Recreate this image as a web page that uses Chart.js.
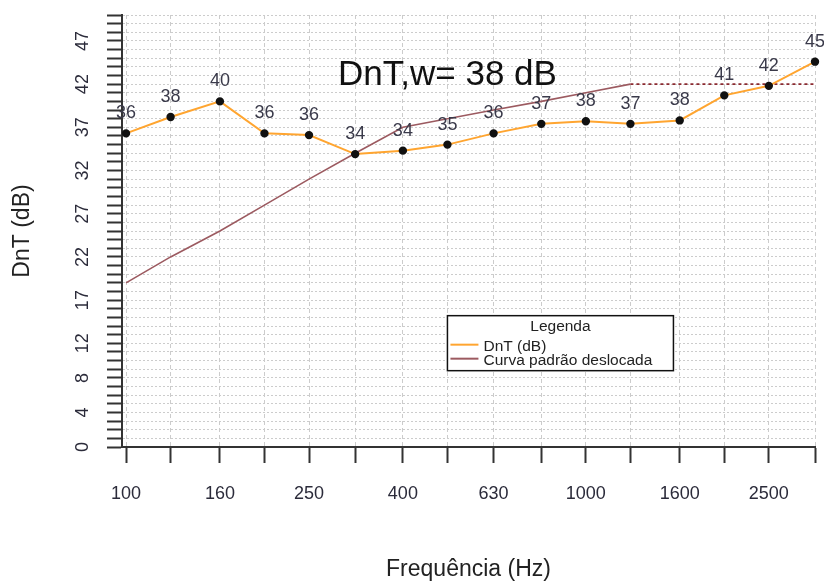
<!DOCTYPE html>
<html>
<head>
<meta charset="utf-8">
<script src="https://cdn.jsdelivr.net/npm/chart.js@4"></script>
<style>
  body { margin: 0; background: #fff; }
  canvas { display: block; }
</style>
</head>
<body>
<canvas id="dntChart" width="824" height="581"></canvas>
<script>
const freqs = [100, 125, 160, 200, 250, 315, 400, 500, 630, 800, 1000, 1250, 1600, 2000, 2500, 3150]
const dntValues = [36.3, 38.2, 40.0, 36.3, 36.1, 33.9, 34.3, 35.0, 36.3, 37.4, 37.7, 37.4, 37.8, 40.7, 41.8, 44.6]
const refCurve = [19, 22, 25, 28, 31, 34, 37, 38, 39, 40, 41, 42, 42, 42, 42, 42]
const xTickLabels = [100, 160, 250, 400, 630, 1000, 1600, 2500]
const yTickLabels = [0, 4, 8, 12, 17, 22, 27, 32, 37, 42, 47]
const ratingText = 'DnT,w= 38 dB'

const FONT = '"Liberation Sans", Arial, sans-serif'
const orange = '#ffa530'
const brown = '#9c5a60'

// labels, title and legend drawn the way R's text()/legend() place them
const rDecor = {
  id: 'rDecor',
  afterDatasetsDraw(chart) {
    const ctx = chart.ctx
    const meta = chart.getDatasetMeta(0)
    ctx.save()
    ctx.font = '18px ' + FONT
    ctx.fillStyle = '#3a3a4a'
    ctx.textAlign = 'center'
    ctx.textBaseline = 'middle'
    meta.data.forEach((pt, i) => {
      ctx.fillText(String(Math.round(dntValues[i])), pt.x, pt.y - 20)
    })
    ctx.restore()
  },
  afterDraw(chart) {
    const ctx = chart.ctx
    const xs = chart.scales.x
    const ys = chart.scales.y

    // rotated y tick labels
    ctx.save()
    ctx.font = '18px ' + FONT
    ctx.fillStyle = '#2b2b3a'
    ctx.textAlign = 'center'
    ctx.textBaseline = 'alphabetic'
    yTickLabels.forEach(v => {
      ctx.save()
      ctx.translate(88, ys.getPixelForValue(v))
      ctx.rotate(-Math.PI / 2)
      ctx.fillText(String(v), 0, 0)
      ctx.restore()
    })
    ctx.restore()

    // DnT,w text
    ctx.save()
    ctx.font = '35px ' + FONT
    ctx.fillStyle = '#111'
    ctx.textAlign = 'center'
    ctx.textBaseline = 'middle'
    ctx.fillText(ratingText, xs.getPixelForValue(500), ys.getPixelForValue(43))
    ctx.restore()

    // legend box
    const lx = xs.getPixelForValue(500)
    const ly = ys.getPixelForValue(15.2)
    const lw = 226, lh = 55
    ctx.save()
    ctx.fillStyle = '#fff'
    ctx.fillRect(lx, ly, lw, lh)
    ctx.strokeStyle = '#111'
    ctx.lineWidth = 1.5
    ctx.strokeRect(lx, ly, lw, lh)
    ctx.font = '15.5px ' + FONT
    ctx.fillStyle = '#222'
    ctx.textAlign = 'center'
    ctx.textBaseline = 'middle'
    ctx.fillText('Legenda', lx + lw / 2, ly + 11)
    ctx.textAlign = 'left'
    chart.data.datasets.forEach((ds, i) => {
      const yy = ly + 29 + i * 14
      ctx.strokeStyle = ds.borderColor
      ctx.lineWidth = 2
      ctx.beginPath()
      ctx.moveTo(lx + 3, yy)
      ctx.lineTo(lx + 31, yy)
      ctx.stroke()
      ctx.fillText(ds.label, lx + 36, yy + 2)
    })
    ctx.restore()
  }
}

new Chart(document.getElementById('dntChart'), {
  type: 'line',
  data: {
    datasets: [{
      label: 'DnT (dB)',
      data: freqs.map((f, i) => ({ x: f, y: dntValues[i] })),
      borderColor: orange,
      borderWidth: 2,
      pointRadius: 3.2,
      pointBackgroundColor: '#111',
      pointBorderColor: '#111',
      tension: 0,
      clip: false
    }, {
      label: 'Curva padrão deslocada',
      data: freqs.map((f, i) => ({ x: f, y: refCurve[i] })),
      borderColor: brown,
      borderWidth: 1.6,
      pointRadius: 0,
      tension: 0,
      clip: false,
      segment: {
        borderDash: c => c.p0.parsed.x >= 1250 ? [3, 3] : undefined,
        borderColor: c => c.p0.parsed.x >= 1250 ? '#8b2a30' : undefined
      }
    }]
  },
  options: {
    responsive: false,
    animation: false,
    devicePixelRatio: 1,
    layout: { padding: { top: 15, right: 9, left: 0, bottom: 0 } },
    plugins: {
      legend: { display: false },
      tooltip: { enabled: false }
    },
    scales: {
      x: {
        type: 'logarithmic',
        min: 98,
        max: 3150,
        afterBuildTicks: s => { s.ticks = freqs.map(v => ({ value: v })) },
        afterFit: s => { s.height = 134; s.paddingLeft = 0; s.paddingRight = 0 },
        ticks: {
          autoSkip: false,
          maxRotation: 0,
          padding: 20,
          color: '#2b2b3a',
          font: { family: FONT, size: 18 },
          callback: v => xTickLabels.includes(v) ? String(v) : ''
        },
        grid: {
          color: '#cccccc',
          lineWidth: 1,
          tickLength: 16,
          tickColor: '#333',
          tickWidth: 2
        },
        border: { color: '#333', width: 2, dash: [4, 3] },
        title: {
          display: true,
          text: 'Frequência (Hz)',
          color: '#222',
          font: { family: FONT, size: 23, lineHeight: 0.95 },
          padding: { top: 0, bottom: 0 }
        }
      },
      y: {
        min: 0,
        max: 50,
        afterFit: s => { s.width = 122 },
        ticks: {
          stepSize: 1,
          maxTicksLimit: 60,
          autoSkip: false,
          display: false
        },
        grid: {
          color: '#cccccc',
          lineWidth: 1,
          tickLength: 15,
          tickColor: '#333',
          tickWidth: 2
        },
        border: { color: '#333', width: 2, dash: [2, 2] },
        title: {
          display: true,
          text: 'DnT (dB)',
          color: '#222',
          font: { family: FONT, size: 23, lineHeight: 0.95 },
          padding: { top: 12, bottom: 0 }
        }
      }
    }
  },
  plugins: [rDecor]
})
</script>
</body>
</html>
